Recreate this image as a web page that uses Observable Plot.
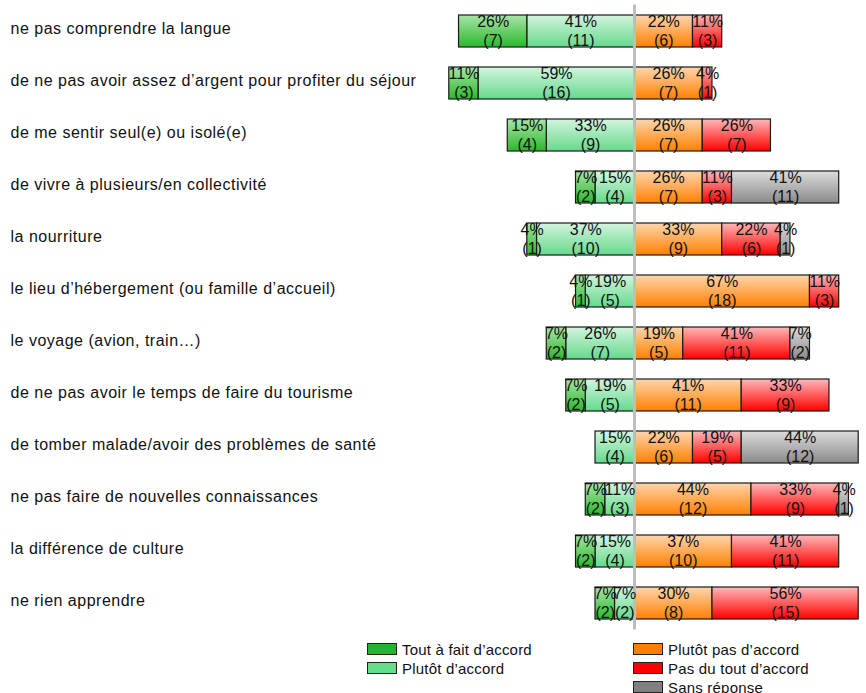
<!DOCTYPE html>
<html><head><meta charset="utf-8">
<script src="https://cdn.jsdelivr.net/npm/d3@7"></script>
<script src="https://cdn.jsdelivr.net/npm/@observablehq/plot@0.6"></script>
<style>
body{margin:0;background:#fff;font-family:"Liberation Sans",Arial,sans-serif;}
#wrap{position:relative;width:866px;height:693px;overflow:hidden;}
.lg{position:absolute;font-size:15px;letter-spacing:0.2px;color:#111;line-height:13px;white-space:nowrap;}
.lg span{display:inline-block;width:28px;height:10px;border:1px solid #222;vertical-align:0px;margin-right:5px;}
.ylab text{letter-spacing:0.5px;}
</style></head>
<body><div id="wrap"><div id="chart"></div></div>
<script>
const N = 27;
const categories = [
  "ne pas comprendre la langue",
  "de ne pas avoir assez d\u2019argent pour profiter du séjour",
  "de me sentir seul(e) ou isolé(e)",
  "de vivre à plusieurs/en collectivité",
  "la nourriture",
  "le lieu d\u2019hébergement (ou famille d\u2019accueil)",
  "le voyage (avion, train\u2026)",
  "de ne pas avoir le temps de faire du tourisme",
  "de tomber malade/avoir des problèmes de santé",
  "ne pas faire de nouvelles connaissances",
  "la différence de culture",
  "ne rien apprendre"
];
const seriesNames = ["Tout à fait d\u2019accord","Plutôt d\u2019accord","Plutôt pas d\u2019accord","Pas du tout d\u2019accord","Sans réponse"];
const pctToutAFait   = [26,11,15,7,4,4,7,7,0,7,7,7];
const cntToutAFait   = [7,3,4,2,1,1,2,2,0,2,2,2];
const pctPlutot      = [41,59,33,15,37,19,26,19,15,11,15,7];
const cntPlutot      = [11,16,9,4,10,5,7,5,4,3,4,2];
const pctPlutotPas   = [22,26,26,26,33,67,19,41,22,44,37,30];
const cntPlutotPas   = [6,7,7,7,9,18,5,11,6,12,10,8];
const pctPasDuTout   = [11,4,26,11,22,11,41,33,19,33,41,56];
const cntPasDuTout   = [3,1,7,3,6,3,11,9,5,9,11,15];
const pctSansRep     = [0,0,0,41,4,0,7,0,44,4,0,0];
const cntSansRep     = [0,0,0,11,1,0,2,0,12,1,0,0];

const colors = {
  g1:["#a6e6a6","#2cb82c"],
  g2:["#d2f5de","#66d98c"],
  o :["#ffd6ad","#ff8000"],
  r :["#ffb8b8","#ff0000"],
  s :["#dcdcdc","#8a8a8a"]
};

const segs = [];
categories.forEach((c,i)=>{
  const a = cntPlutot[i]/N*100, b = cntToutAFait[i]/N*100;
  segs.push({cat:c, x1:-a, x2:0, pct:pctPlutot[i], cnt:cntPlutot[i], g:"g2"});
  segs.push({cat:c, x1:-a-b, x2:-a, pct:pctToutAFait[i], cnt:cntToutAFait[i], g:"g1"});
  let x = 0;
  [[pctPlutotPas,cntPlutotPas,"o"],[pctPasDuTout,cntPasDuTout,"r"],[pctSansRep,cntSansRep,"s"]].forEach(([p,n,g])=>{
    const w = n[i]/N*100;
    segs.push({cat:c, x1:x, x2:x+w, pct:p[i], cnt:n[i], g});
    x += w;
  });
});
const data = segs.filter(d=>d.cnt>0);

const px = 2.632, lo = -72, hi = 88, center = 634;
const mL = center + lo*px;
const mR = 866 - mL - (hi-lo)*px;

const defs = () => {
  const d = d3.create("svg:defs");
  for (const [k,[t,b]] of Object.entries(colors)) {
    const lg = d.append("linearGradient").attr("id","grad-"+k).attr("x1",0).attr("y1",0).attr("x2",0).attr("y2",1);
    lg.append("stop").attr("offset","0%").attr("stop-color",t);
    lg.append("stop").attr("offset","100%").attr("stop-color",b);
  }
  return d.node();
};

const chart = Plot.plot({
  width: 866, height: 636,
  marginLeft: mL, marginRight: mR, marginTop: 4.6, marginBottom: 6.6,
  style:{fontFamily:"'Liberation Sans', Arial, sans-serif", background:"#fff"},
  x:{domain:[lo,hi], axis:null},
  y:{domain:categories, paddingInner:0.3846, paddingOuter:0.2, round:false, label:null},
  marks:[
    defs,
    Plot.barX(data,{x1:"x1", x2:"x2", y:"cat", fill:d=>`url(#grad-${d.g})`, stroke:"#1a1a1a", strokeWidth:1.2}),
    Plot.ruleX([0],{stroke:"#bdbdbd", strokeWidth:3}),
    Plot.text(data,{x:d=>(d.x1+d.x2)/2, y:"cat", text:d=>d.pct+"%", dy:-9.5, fontSize:16, fill:"#111"}),
    Plot.text(data,{x:d=>(d.x1+d.x2)/2, y:"cat", text:d=>"("+d.cnt+")", dy:9, fontSize:16, fill:"#111"}),
    Plot.axisY({tickSize:0, tickPadding:0, textAnchor:"start", dx:10-mL, dy:-3, fontSize:16, fill:"#111", label:null, className:"ylab"})
  ]
});
document.getElementById("chart").appendChild(chart);

const legendItems = [
  [seriesNames[0], "#21b531", 367, 643],
  [seriesNames[1], "#66dd8c", 367, 662],
  [seriesNames[2], "#ff8000", 633, 643],
  [seriesNames[3], "#ff0000", 633, 662],
  [seriesNames[4], "#808080", 633, 681]
];
const wrap = document.getElementById("wrap");
legendItems.forEach(([t,c,x,y])=>{
  const div = document.createElement("div");
  div.className="lg"; div.style.left=x+"px"; div.style.top=y+"px";
  div.innerHTML = `<span style="background:${c}"></span>${t}`;
  wrap.appendChild(div);
});
</script></body></html>
